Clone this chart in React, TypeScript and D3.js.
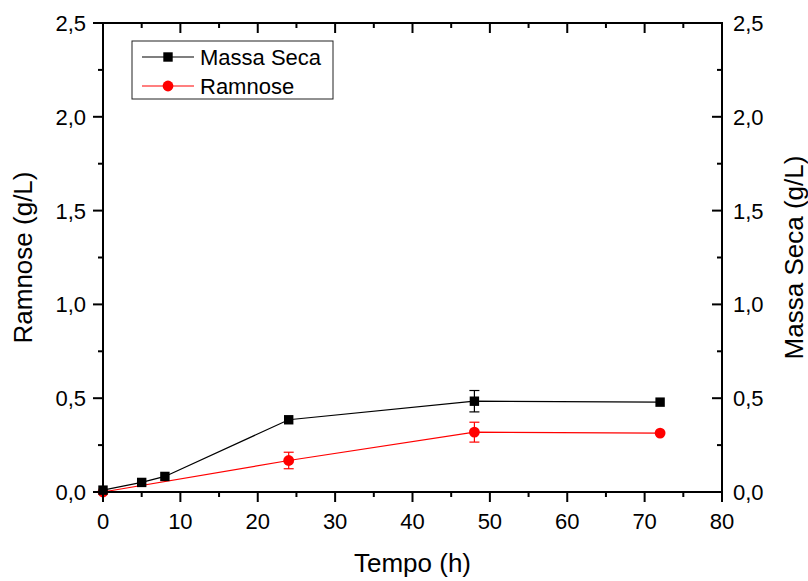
import React from "react";
import * as d3 from "d3";

// Sampling times (h)
const massaTimes = [0, 5, 8, 24, 48, 72];
const massaValues = [0.01, 0.051, 0.083, 0.385, 0.484, 0.479];
const massaErrors = [0, 0, 0, 0, 0.057, 0];

const ramnoseTimes = [0, 24, 48, 72];
const ramnoseValues = [0.0, 0.168, 0.319, 0.314];
const ramnoseErrors = [0, 0.044, 0.053, 0];

const xMajorTicks = [0, 10, 20, 30, 40, 50, 60, 70, 80];
const xMinorTicks = [5, 15, 25, 35, 45, 55, 65, 75];
const yMajorTicks = [0, 0.5, 1.0, 1.5, 2.0, 2.5];
const yMinorTicks = [0.25, 0.75, 1.25, 1.75, 2.25];

const legendLabels = ["Massa Seca", "Ramnose"];

const W = 808;
const H = 581;
const left = 103;
const right = 722;
const top = 23;
const bottom = 492;

const FONT = "Arial, 'Liberation Sans', Helvetica, sans-serif";
const fmt = (v: number) => v.toFixed(1).replace(".", ",");
const SQ = 9.4;

export default function App() {
  const x = d3.scaleLinear().domain([0, 80]).range([left, right]);
  const y = d3.scaleLinear().domain([0, 2.5]).range([bottom, top]);

  const line = d3
    .line<[number, number]>()
    .x((d) => x(d[0]))
    .y((d) => y(d[1]));

  const massaPts: [number, number][] = massaTimes.map((t, i) => [t, massaValues[i]]);
  const ramPts: [number, number][] = ramnoseTimes.map((t, i) => [t, ramnoseValues[i]]);

  const errorBar = (t: number, v: number, e: number, color: string, key: string) => {
    if (!e) return null;
    const cx = x(t);
    const y1 = y(v + e);
    const y2 = y(v - e);
    return (
      <g key={key} stroke={color} strokeWidth={1.2}>
        <line x1={cx} x2={cx} y1={y1} y2={y2} />
        <line x1={cx - 5} x2={cx + 5} y1={y1} y2={y1} />
        <line x1={cx - 5} x2={cx + 5} y1={y2} y2={y2} />
      </g>
    );
  };

  const textStyle = { fontFamily: FONT };

  return (
    <svg
      width={W}
      height={H}
      style={{ position: "absolute", left: 0, top: 0, background: "#fff", fontFamily: FONT }}
    >
      <rect x={0} y={0} width={W} height={H} fill="#fff" />

      {/* Ramnose series */}
      <path d={line(ramPts) || ""} fill="none" stroke="#ff0000" strokeWidth={1.2} />
      {ramnoseTimes.map((t, i) => errorBar(t, ramnoseValues[i], ramnoseErrors[i], "#ff0000", `re${i}`))}
      {ramPts.map((d, i) => (
        <circle key={`rc${i}`} cx={x(d[0])} cy={y(d[1])} r={5.4} fill="#ff0000" />
      ))}

      {/* Massa Seca series */}
      <path d={line(massaPts) || ""} fill="none" stroke="#000" strokeWidth={1.2} />
      {massaTimes.map((t, i) => errorBar(t, massaValues[i], massaErrors[i], "#000", `me${i}`))}
      {massaPts.map((d, i) => (
        <rect key={`ms${i}`} x={x(d[0]) - SQ / 2} y={y(d[1]) - SQ / 2} width={SQ} height={SQ} fill="#000" />
      ))}

      {/* Frame */}
      <rect x={left} y={top} width={right - left} height={bottom - top} fill="none" stroke="#000" strokeWidth={2} />

      {/* Bottom axis: outward ticks */}
      {xMajorTicks.map((t) => (
        <line key={`bx${t}`} x1={x(t)} x2={x(t)} y1={bottom} y2={bottom + 10} stroke="#000" strokeWidth={2} />
      ))}
      {xMinorTicks.map((t) => (
        <line key={`bxm${t}`} x1={x(t)} x2={x(t)} y1={bottom} y2={bottom + 5} stroke="#000" strokeWidth={2} />
      ))}
      {/* Top axis: inward ticks */}
      {xMajorTicks.map((t) => (
        <line key={`tx${t}`} x1={x(t)} x2={x(t)} y1={top} y2={top + 10} stroke="#000" strokeWidth={2} />
      ))}
      {xMinorTicks.map((t) => (
        <line key={`txm${t}`} x1={x(t)} x2={x(t)} y1={top} y2={top + 5} stroke="#000" strokeWidth={2} />
      ))}
      {xMajorTicks.map((t) => (
        <text key={`xl${t}`} x={x(t)} y={529} textAnchor="middle" fontSize={22} fill="#000" style={textStyle}>
          {t}
        </text>
      ))}

      {/* Left axis: outward ticks */}
      {yMajorTicks.map((v) => (
        <line key={`ly${v}`} x1={left - 10} x2={left} y1={y(v)} y2={y(v)} stroke="#000" strokeWidth={2} />
      ))}
      {yMinorTicks.map((v) => (
        <line key={`lym${v}`} x1={left - 5} x2={left} y1={y(v)} y2={y(v)} stroke="#000" strokeWidth={2} />
      ))}
      {yMajorTicks.map((v) => (
        <text key={`lyl${v}`} x={left - 17} y={y(v) + 8} textAnchor="end" fontSize={22} fill="#000" style={textStyle}>
          {fmt(v)}
        </text>
      ))}

      {/* Right axis: inward ticks */}
      {yMajorTicks.map((v) => (
        <line key={`ry${v}`} x1={right - 10} x2={right} y1={y(v)} y2={y(v)} stroke="#000" strokeWidth={2} />
      ))}
      {yMinorTicks.map((v) => (
        <line key={`rym${v}`} x1={right - 5} x2={right} y1={y(v)} y2={y(v)} stroke="#000" strokeWidth={2} />
      ))}
      {yMajorTicks.map((v) => (
        <text key={`ryl${v}`} x={right + 11} y={y(v) + 8} textAnchor="start" fontSize={22} fill="#000" style={textStyle}>
          {fmt(v)}
        </text>
      ))}

      {/* Axis titles */}
      <text x={(left + right) / 2} y={572} textAnchor="middle" fontSize={26} fill="#000" style={textStyle}>
        Tempo (h)
      </text>
      <text
        transform={`translate(32, ${(top + bottom) / 2}) rotate(-90)`}
        textAnchor="middle"
        fontSize={26}
        fill="#000"
        style={textStyle}
      >
        Ramnose (g/L)
      </text>
      <text
        transform={`translate(803, ${(top + bottom) / 2}) rotate(-90)`}
        textAnchor="middle"
        fontSize={26}
        fill="#000"
        style={textStyle}
      >
        Massa Seca (g/L)
      </text>

      {/* Legend */}
      <rect x={132} y={41} width={201} height={58} fill="#fff" stroke="#222" strokeWidth={1} />
      <line x1={142} x2={194} y1={57} y2={57} stroke="#000" strokeWidth={1.2} />
      <rect x={168 - SQ / 2} y={57 - SQ / 2} width={SQ} height={SQ} fill="#000" />
      <text x={200} y={65} fontSize={22} fill="#000" style={textStyle}>
        {legendLabels[0]}
      </text>
      <line x1={142} x2={194} y1={86} y2={86} stroke="#ff0000" strokeWidth={1.2} />
      <circle cx={168} cy={86} r={5.4} fill="#ff0000" />
      <text x={200} y={94} fontSize={22} fill="#000" style={textStyle}>
        {legendLabels[1]}
      </text>
    </svg>
  );
}
